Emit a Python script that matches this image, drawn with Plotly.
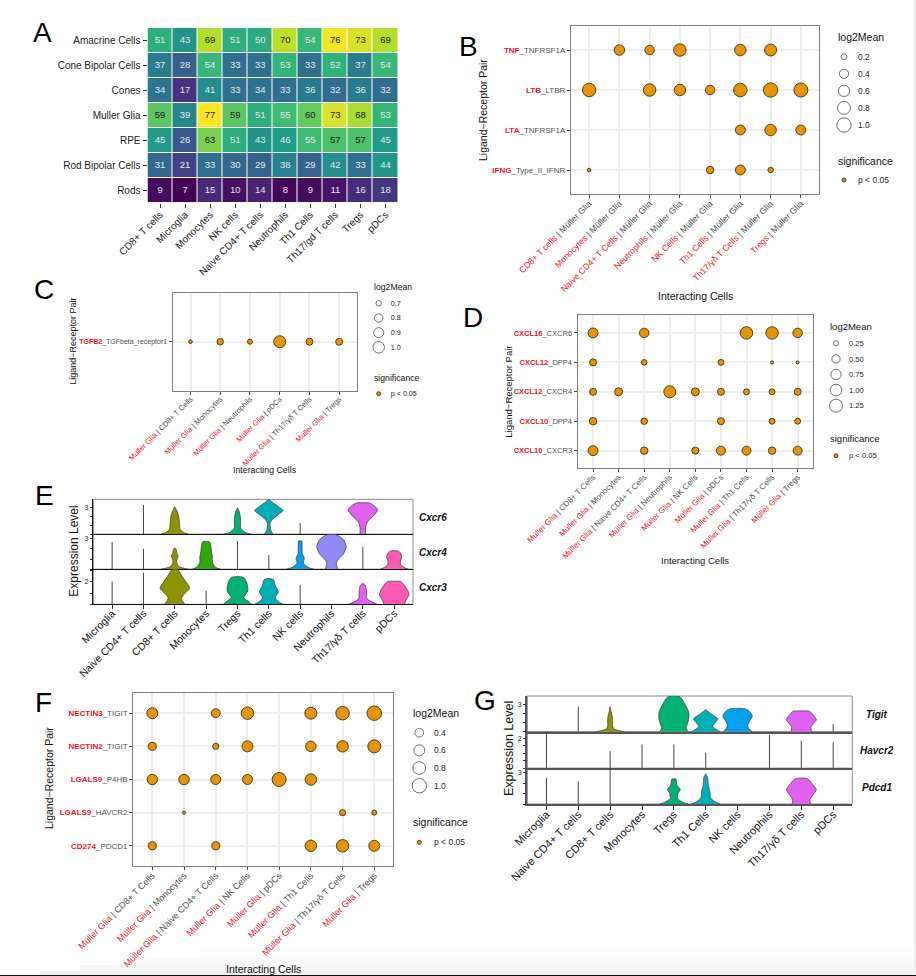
"""Multi panel figure: interaction counts, ligand-receptor dots and stacked violins."""

import plotly.graph_objects as go

WIDTH = 916
HEIGHT = 976
FONT = "Liberation Sans"
ORANGE = "#E69500"
RED = "#F0141E"

N = None

# --- panel A
A_ROWS = ["Amacrine Cells", "Cone Bipolar Cells", "Cones", "Muller Glia", "RPE", "Rod Bipolar Cells", "Rods"]
A_COLS = ["CD8+ T cells", "Microglia", "Monocytes", "NK cells", "Naive CD4+ T cells",
          "Neutrophils", "Th1 Cells", "Th17/gd T cells", "Tregs", "pDCs"]
A_COUNTS = [
    [51, 43, 69, 51, 50, 70, 54, 76, 73, 69],
    [37, 28, 54, 33, 33, 53, 33, 52, 37, 54],
    [34, 17, 41, 33, 34, 33, 36, 32, 36, 32],
    [59, 39, 77, 59, 51, 55, 60, 73, 68, 53],
    [45, 26, 63, 51, 43, 46, 55, 57, 57, 45],
    [31, 21, 33, 30, 29, 38, 29, 42, 33, 44],
    [9, 7, 15, 10, 14, 8, 9, 11, 16, 18],
]

# --- panel B
B_LIGANDS = ["TNF", "LTB", "LTA", "IFNG"]
B_RECEPTORS = ["TNFRSF1A", "LTBR", "TNFRSF1A", "Type_II_IFNR"]
B_CELLS = ["CD8+ T cells", "Monocytes", "Naive CD4+ T Cells", "Neutrophils",
           "NK Cells", "Th1 Cells", "Th17/γδ T Cells", "Tregs"]
B_MEAN = [
    [N, .52, .43, .75, N, .63, .68, N],
    [.88, N, .75, .63, .43, .88, 1.02, .95],
    [N, N, N, N, N, .47, .63, .47],
    [.152, N, N, N, .28, .47, .19, N],
]
B_LEGEND = [0.2, 0.4, 0.6, 0.8, 1.0]

# --- panel C
C_LIGANDS = ["TGFB2"]
C_RECEPTORS = ["TGFbeta_receptor1"]
C_CELLS = ["CD8+ T Cells", "Monocytes", "Neutrophils", "pDCs", "Th17/γδ T Cells", "Tregs"]
C_MEAN = [[.672, .727, .69, 1.05, .745, .745]]
C_LEGEND = [0.7, 0.8, 0.9, 1.0]

# --- panel D
D_LIGANDS = ["CXCL16", "CXCL12", "CXCL12", "CXCL10", "CXCL10"]
D_RECEPTORS = ["CXCR6", "DPP4", "CXCR4", "DPP4", "CXCR3"]
D_CELLS = ["CD8+ T Cells", "Monocytes", "Naive CD4+ T Cells", "Neutrophils", "NK Cells",
           "pDCs", "Th1 Cells", "Th17/γδ T Cells", "Tregs"]
D_MEAN = [
    [.71, N, .64, N, N, N, 1.14, 1.14, .64],
    [.37, N, .27, N, N, .29, N, .2, .2],
    [.37, .46, N, 1.05, .46, .37, .29, .29, .37],
    [.41, N, .33, N, N, .37, N, .29, .29],
    [.71, N, .41, N, .37, .58, .58, .41, .58],
]
D_LEGEND = [0.25, 0.50, 0.75, 1.00, 1.25]

# --- panel F
F_LIGANDS = ["NECTIN3", "NECTIN2", "LGALS9", "LGALS9", "CD274"]
F_RECEPTORS = ["TIGIT", "TIGIT", "P4HB", "HAVCR2", "PDCD1"]
F_CELLS = ["CD8+ T Cells", "Monocytes", "Naive CD4+ T Cells", "NK Cells",
           "pDCs", "Th1 Cells", "Th17/γδ T Cells", "Tregs"]
F_MEAN = [
    [.6, N, .425, .76, N, .71, .89, 1.03],
    [.36, N, .26, .6, N, .55, .65, .82],
    [.55, .55, .51, .51, .96, .65, N, N],
    [N, .2, N, N, N, N, .26, .225],
    [.36, N, .36, N, N, .65, .76, .6],
]
F_LEGEND = [0.4, 0.6, 0.8, 1.0]

# --- violins: {cell: (expression levels, half widths in category units)}, spikes: {cell: top}
E_CELLS = ["Microglia", "Naive CD4+ T cells", "CD8+ T cells", "Monocytes", "Tregs",
           "Th1 cells", "NK cells", "Neutrophils", "Th17/γδ T cells", "pDCs"]
G_CELLS = ["Microglia", "Naive CD4+ T cells", "CD8+ T cells", "Monocytes", "Tregs",
           "Th1 Cells", "NK cells", "Neutrophils", "Th17/γδ T cells", "pDCs"]
CELL_COLORS = ["#F8766D", "#D89000", "#8E9300", "#2DA90A", "#00B271",
               "#00AEB8", "#00A2F0", "#8F8CFA", "#E060F0", "#FF58B5"]

CXCR6_VIOLINS = {
    2: ([0, .26, .55, 1.2, 1.9, 2.5, 3.07], [.45, .25, .17, .15, .13, .08, 0]),
    4: ([0, .2, .7, 1.2, 2, 2.5, 2.96], [.45, .25, .1, .1, .09, .06, 0]),
    5: ([0, .4, 1.2, 1.6, 2.2, 2.65, 3.1, 3.6, 3.95], [.14, .07, .04, .1, .3, .45, .3, .1, 0]),
    8: ([0, .8, 1.4, 2.1, 2.75, 3.2, 3.5, 3.52], [.09, .09, .15, .35, .47, .35, .2, 0]),
}
CXCR6_SPIKES = {1: 3.26, 6: 1.27}
CXCR4_VIOLINS = {
    2: ([0, .1, .3, .7, 1.0, 1.3, 1.6, 1.9, 2.1], [.45, .3, .12, .06, .07, .11, .06, .05, 0]),
    3: ([0, .2, .7, 1.2, 1.7, 2.5, 2.7, 2.72], [.46, .3, .2, .2, .17, .14, .1, 0]),
    6: ([0, .2, .6, 1.1, 1.5, 2.2, 2.77, 2.78], [.45, .25, .1, .13, .07, .06, .05, 0]),
    7: ([0, .3, .6, 1.0, 1.5, 2.2, 2.9, 3.3, 3.42], [.2, .17, .15, .22, .38, .47, .38, .2, .1]),
    9: ([0, .2, .5, .8, 1.2, 1.6, 1.8, 1.82], [.45, .3, .2, .2, .24, .2, .1, 0]),
}
CXCR4_SPIKES = {0: 2.67, 1: 2.0, 4: 2.77, 5: 1.4, 8: 2.2}
CXCR3_VIOLINS = {
    2: ([0, .54, 1.0, 1.43, 2.0, 2.5, 3.13], [.32, .21, .33, .47, .36, .23, .08]),
    4: ([0, .3, .6, 1.2, 1.9, 2.4, 2.48], [.45, .33, .2, .33, .3, .2, 0]),
    5: ([0, .25, .6, 1.1, 1.7, 2.2, 2.33], [.45, .3, .2, .3, .2, .15, 0]),
    8: ([0, .2, .5, .9, 1.3, 1.7, 1.88], [.45, .3, .13, .12, .11, .08, 0]),
    9: ([0, .4, .85, 1.3, 1.8, 2.05, 2.06], [.33, .38, .47, .42, .3, .2, 0]),
}
CXCR3_SPIKES = {0: 2.03, 1: 2.83, 3: 1.2, 6: 1.73}

TIGIT_VIOLINS = {
    2: ([0, .1, .3, .7, 1.1, 1.6, 2.2, 2.75], [.45, .3, .12, .07, .08, .07, .03, 0]),
    4: ([0, .4, .8, 1.5, 2.2, 3, 3.6, 3.92], [.45, .38, .42, .47, .46, .35, .25, .15]),
    5: ([0, .2, .55, 1.0, 1.4, 2.0, 2.45], [.45, .35, .22, .3, .38, .15, 0]),
    6: ([0, .3, .7, 1.2, 1.7, 2.2, 2.5, 2.56], [.46, .36, .32, .38, .46, .38, .25, 0]),
    8: ([0, .5, .9, 1.3, 1.8, 2.25, 2.27], [.32, .3, .38, .47, .38, .25, 0]),
}
TIGIT_SPIKES = {1: 2.75, 9: .84}
HAVCR2_VIOLINS = {}
HAVCR2_SPIKES = {0: 2.46, 2: 1.15, 3: 1.6, 4: 1.6, 5: 1.05, 7: 2.23, 8: 1.84, 9: 1.75}
PDCD1_VIOLINS = {
    4: ([0, .15, .5, 1.0, 1.4, 1.8, 2.4, 2.41], [.45, .3, .12, .13, .2, .1, .06, 0]),
    5: ([0, .2, .6, 1.2, 1.8, 2.5, 2.9], [.45, .3, .15, .13, .08, .06, 0]),
    8: ([0, .4, .9, 1.37, 1.9, 2.4, 2.5], [.29, .27, .37, .47, .35, .2, 0]),
}
PDCD1_SPIKES = {0: 2.5, 1: 2.18, 2: 3.42}

fig = go.Figure()
layout_axes = {}
annotations = []
shapes = []


def px_x(p):
    return p / WIDTH


def px_y(p):
    return 1 - p / HEIGHT


def add_axes(x0, x1, y0, y1, xopts, yopts):
    """Adds an axis pair on a pixel box and returns the trace references."""
    n = len(layout_axes) // 2 + 1
    layout_axes[f"xaxis{n}"] = dict(domain=[px_x(x0), px_x(x1)], anchor=f"y{n}", automargin=False, **xopts)
    layout_axes[f"yaxis{n}"] = dict(domain=[px_y(y1), px_y(y0)], anchor=f"x{n}", automargin=False, **yopts)
    return f"x{n}", f"y{n}"


def add_text(x, y, text, size, angle=0, xanchor="center", color="#111111"):
    annotations.append(dict(
        x=px_x(x), y=px_y(y), xref="paper", yref="paper", text=text, showarrow=False,
        xanchor=xanchor, yanchor="middle", textangle=angle,
        font=dict(size=size, color=color, family=FONT),
    ))


def red(text):
    return f'<span style="color:{RED}">{text}</span>'


def scaled_size(value, scale):
    """ggplot style area scale, scale = (vmin, vmax, dmin, dmax)."""
    vmin, vmax, dmin, dmax = scale
    return dmin + (dmax - dmin) * ((value - vmin) / (vmax - vmin)) ** 0.5


def dot_panel(box, ligands, receptors, cells, means, scale, cell_first, xsize, ysize):
    """Draws one ligand-receptor dot plot."""
    x0, x1, y0, y1 = box
    if cell_first:
        xtext = [f'{red(c)} <span style="color:#4d4d4d">| Müller Glia</span>' for c in cells]
    else:
        xtext = [f'{red("Müller Glia")} <span style="color:#4d4d4d">| {c}</span>' for c in cells]
    ytext = [f'<span style="color:{RED}"><b>{a}</b></span>_{b}' for a, b in zip(ligands, receptors)]
    frame = dict(showline=True, mirror=True, linecolor="#7f7f7f", linewidth=1.3, showgrid=True,
                 gridcolor="#eeeeee", gridwidth=1.5, ticks="outside", ticklen=3, tickwidth=1,
                 tickcolor="#444444", zeroline=False)
    xref, yref = add_axes(
        x0, x1, y0, y1,
        dict(frame, range=[-0.6, len(cells) - 0.4], tickvals=list(range(len(cells))), ticktext=xtext,
             tickangle=-45, ticklabelstandoff=-3, tickfont=dict(size=xsize, color="#4d4d4d", family=FONT)),
        dict(frame, range=[len(ligands) - 0.4, -0.6], tickvals=list(range(len(ligands))), ticktext=ytext,
             tickfont=dict(size=ysize, color="#4d4d4d", family=FONT)),
    )
    xs, ys, sizes = [], [], []
    for r, row in enumerate(means):
        for c, value in enumerate(row):
            if value is not None:
                xs.append(c)
                ys.append(r)
                sizes.append(scaled_size(value, scale))
    fig.add_trace(go.Scatter(
        x=xs, y=ys, xaxis=xref, yaxis=yref, mode="markers", showlegend=False,
        marker=dict(size=sizes, color=ORANGE, opacity=1, line=dict(color="#222222", width=0.8)),
    ))


def dot_legend(key_x, label_x, title_x, title_y, key_y, values, fmt, scale, sig_y, sig_key_y, tsize, lsize):
    """Draws the log2Mean and significance keys as small axes of their own."""
    half = label_x - key_x - 1
    step = (key_y[1] - key_y[0]) / (len(values) - 1)
    hidden = dict(showgrid=False, zeroline=False, showticklabels=False, ticks="")
    xref, yref = add_axes(
        key_x - half, key_x + half, key_y[0] - step / 2, key_y[1] + step / 2,
        dict(hidden, range=[-1, 1]),
        dict(showgrid=False, zeroline=False, side="right", range=[len(values) - 0.5, -0.5],
             tickvals=list(range(len(values))), ticktext=[fmt % v for v in values], ticks="",
             tickfont=dict(size=lsize, color="#222222", family=FONT)),
    )
    fig.add_trace(go.Scatter(
        x=[0] * len(values), y=list(range(len(values))), xaxis=xref, yaxis=yref, mode="markers",
        showlegend=False, marker=dict(size=[scaled_size(v, scale) for v in values], color="white",
                                      line=dict(color="#333333", width=1)),
    ))
    xref, yref = add_axes(
        key_x - half, key_x + half, sig_key_y - 8, sig_key_y + 8,
        dict(hidden, range=[-1, 1]),
        dict(showgrid=False, zeroline=False, side="right", range=[-0.5, 0.5], tickvals=[0],
             ticktext=["p < 0.05"], ticks="", tickfont=dict(size=lsize, color="#222222", family=FONT)),
    )
    fig.add_trace(go.Scatter(
        x=[0], y=[0], xaxis=xref, yaxis=yref, mode="markers", showlegend=False,
        marker=dict(size=4, color=ORANGE, line=dict(color="#222222", width=0.8)),
    ))
    add_text(title_x, title_y, "log2Mean", tsize, xanchor="left")
    add_text(title_x, sig_y, "significance", tsize, xanchor="left")


def violin_row(box, cells, violins, spikes, top, ticks, tick_labels, show_x, xsize, axis_line):
    """Draws one row of a stacked violin plot."""
    x0, x1, y0, y1 = box
    line_color, line_width = axis_line
    xref, yref = add_axes(
        x0, x1, y0, y1,
        dict(range=[-0.6, 9.6], showline=True, linecolor=line_color, linewidth=line_width, showgrid=False,
             zeroline=False, tickvals=list(range(len(cells))), ticktext=cells if show_x else [""] * len(cells),
             ticks="outside" if show_x else "", ticklen=4, tickangle=-45, tickcolor="#222222",
             ticklabelstandoff=-6, tickfont=dict(size=xsize, color="#111111", family=FONT)),
        dict(range=[0, top], showline=True, linecolor=line_color, linewidth=line_width, showgrid=False,
             zeroline=False, tickvals=ticks, ticktext=tick_labels, ticks="outside", ticklen=2.5,
             tickcolor="#333333", tickfont=dict(size=7, color="#222222", family=FONT)),
    )
    for cell, (levels, widths) in violins.items():
        xs = [cell - w for w in widths] + [cell + w for w in reversed(widths)]
        ys = levels + levels[::-1]
        fig.add_trace(go.Scatter(
            x=xs, y=ys, xaxis=xref, yaxis=yref, mode="lines", fill="toself", showlegend=False,
            fillcolor=CELL_COLORS[cell], line=dict(color="#444444", width=0.8, shape="spline", smoothing=0.7),
        ))
    spike_x, spike_y = [], []
    for cell, height in spikes.items():
        spike_x += [cell, cell, None]
        spike_y += [0, height, None]
    fig.add_trace(go.Scatter(
        x=spike_x, y=spike_y, xaxis=xref, yaxis=yref, mode="lines", showlegend=False,
        line=dict(color="#444444", width=1),
    ))
    shapes.append(dict(type="rect", xref="paper", yref="paper", x0=px_x(x0), x1=px_x(x1), y0=px_y(y1), y1=px_y(y0),
                       line=dict(color="#8a8a8a", width=1), layer="below"))


# panel A
xref, yref = add_axes(
    147.5, 398, 28, 203,
    dict(range=[-0.5, 9.5], tickvals=list(range(10)), ticktext=A_COLS, tickangle=-45, ticks="outside",
         ticklen=4, tickcolor="#333333", showgrid=False, zeroline=False, ticklabelstandoff=-3,
         tickfont=dict(size=10, color="#222222", family=FONT)),
    dict(range=[6.5, -0.5], tickvals=list(range(7)), ticktext=A_ROWS, ticks="outside", ticklen=4,
         tickcolor="#333333", showgrid=False, zeroline=False,
         tickfont=dict(size=10, color="#222222", family=FONT)),
)
fig.add_trace(go.Heatmap(
    z=A_COUNTS, x=list(range(10)), y=list(range(7)), xaxis=xref, yaxis=yref, colorscale="Viridis",
    zmin=7, zmax=77, showscale=False, xgap=1, ygap=1,
))
text_x, text_y, text_v, text_c = [], [], [], []
for r, row in enumerate(A_COUNTS):
    for c, count in enumerate(row):
        text_x.append(c)
        text_y.append(r)
        text_v.append(str(count))
        text_c.append("#1c1c1c" if count >= 57 else "#e6e6e6")
fig.add_trace(go.Scatter(
    x=text_x, y=text_y, text=text_v, xaxis=xref, yaxis=yref, mode="text", showlegend=False,
    textfont=dict(size=9.5, color=text_c, family=FONT),
))

# dot panels
dot_panel((571, 819, 26, 194), B_LIGANDS, B_RECEPTORS, B_CELLS, B_MEAN, (.15, 1.1, 3, 15), True, 8.7, 8)
dot_legend(844, 858, 836, 37, (56.7, 125), B_LEGEND, "%.1f", (.15, 1.1, 3, 15), 161, 180, 10.5, 8.5)
add_text(695, 295.7, "Interacting Cells", 10.5)
add_text(483, 110, "Ligand−Receptor Pair", 10.5, -90)

dot_panel((172.7, 357, 292.7, 390.7), C_LIGANDS, C_RECEPTORS, C_CELLS, C_MEAN, (.67, 1.05, 3, 12), False, 7.5, 7)
dot_legend(378.7, 390.7, 371.7, 287, (303.3, 347.3), C_LEGEND, "%.1f", (.67, 1.05, 3, 12), 377.7, 393.7, 8.7, 7.2)
add_text(265, 470, "Interacting Cells", 8.8)
add_text(73, 341.7, "Ligand−Receptor Pair", 9, -90)

dot_panel((577.7, 813, 315.3, 468.3), D_LIGANDS, D_RECEPTORS, D_CELLS, D_MEAN, (.2, 1.35, 3, 13.5), False, 8, 7.5)
dot_legend(836, 849, 828, 326, (343.3, 405.7), D_LEGEND, "%.2f", (.2, 1.35, 3, 13.5), 438, 455.7, 9.5, 7.6)
add_text(695, 560, "Interacting Cells", 9.5)
add_text(509, 391.7, "Ligand−Receptor Pair", 9.5, -90)

dot_panel((133.3, 393.3, 693.3, 865.7), F_LIGANDS, F_RECEPTORS, F_CELLS, F_MEAN, (.2, 1.1, 3, 15), False, 9, 8)
dot_legend(419.3, 434, 410.7, 713.3, (732.7, 785.7), F_LEGEND, "%.1f", (.2, 1.1, 3, 15), 822.3, 842.3, 10.5, 8.5)
add_text(263, 969, "Interacting Cells", 10.5)
add_text(49, 778, "Ligand−Receptor Pair", 10.5, -90)

# violin panels
E_LINE = ("#111111", 1)
G_LINE = ("#555555", 1.5)
violin_row((93.3, 413, 499.3, 534.3), E_CELLS, CXCR6_VIOLINS, CXCR6_SPIKES, 3.9, [0, 1, 2, 3], ["", "", "", "3"], False, 10.5, E_LINE)
violin_row((93.3, 413, 534.3, 569.3), E_CELLS, CXCR4_VIOLINS, CXCR4_SPIKES, 3.42, [0, 1, 2, 3], ["", "", "", "3"], False, 10.5, E_LINE)
violin_row((93.3, 413, 569.3, 604.3), E_CELLS, CXCR3_VIOLINS, CXCR3_SPIKES, 3.13, [0, 1, 2, 3], ["", "", "2", ""], True, 10.5, E_LINE)
add_text(74, 551.7, "Expression Level", 12, -90)
add_text(432.7, 517, "<b><i>Cxcr6</i></b>", 10)
add_text(432.7, 552, "<b><i>Cxcr4</i></b>", 10)
add_text(432.7, 587, "<b><i>Cxcr3</i></b>", 10)

violin_row((527.3, 852.3, 696, 731.7), G_CELLS, TIGIT_VIOLINS, TIGIT_SPIKES, 3.92, [0, 1, 2, 3], ["", "", "", "3"], False, 11, G_LINE)
violin_row((527.3, 852.3, 731.7, 768.3), G_CELLS, HAVCR2_VIOLINS, HAVCR2_SPIKES, 2.46, [0, .5, 1, 1.5, 2], ["", "", "", "", "2"], False, 11, G_LINE)
violin_row((527.3, 852.3, 768.3, 804), G_CELLS, PDCD1_VIOLINS, PDCD1_SPIKES, 3.42, [0, 1, 2, 3], ["", "", "", "3"], True, 11, G_LINE)
add_text(509, 749, "Expression Level", 12.5, -90)
add_text(877.3, 714, "<b><i>Tigit</i></b>", 10)
add_text(877.3, 750.7, "<b><i>Havcr2</i></b>", 10)
add_text(877.3, 787, "<b><i>Pdcd1</i></b>", 10)

# panel letters
for letter, x, y in [("A", 31, 32), ("B", 457, 47), ("C", 32, 289), ("D", 461, 318),
                     ("E", 33, 495), ("F", 33, 702), ("G", 472, 700)]:
    add_text(x, y, letter, 28, xanchor="left", color="#000000")

# screenshot edge around the page
for left, top, fill in [(200, 950, "#fdfdfd"), (130, 958, "#fafafa"), (80, 965, "#f6f6f6"), (40, 971, "#f1f1f1")]:
    shapes.append(dict(type="rect", xref="paper", yref="paper", x0=px_x(left), x1=1, y0=0, y1=px_y(top),
                       line=dict(width=0), fillcolor=fill, layer="below"))
shapes.append(dict(type="rect", xref="paper", yref="paper", x0=0, x1=1, y0=0, y1=px_y(975),
                   line=dict(width=0), fillcolor="#111111", layer="above"))
shapes.append(dict(type="rect", xref="paper", yref="paper", x0=px_x(914), x1=1, y0=0, y1=1,
                   line=dict(width=0), fillcolor="#eeeeee", layer="below"))

fig.update_layout(
    width=WIDTH, height=HEIGHT, margin=dict(l=0, r=0, t=0, b=0), paper_bgcolor="white", plot_bgcolor="white",
    showlegend=False, font=dict(family=FONT), annotations=annotations, shapes=shapes, **layout_axes,
)

fig.write_html("out.html", config={"displayModeBar": False}, post_script="document.body.style.margin='0';")
